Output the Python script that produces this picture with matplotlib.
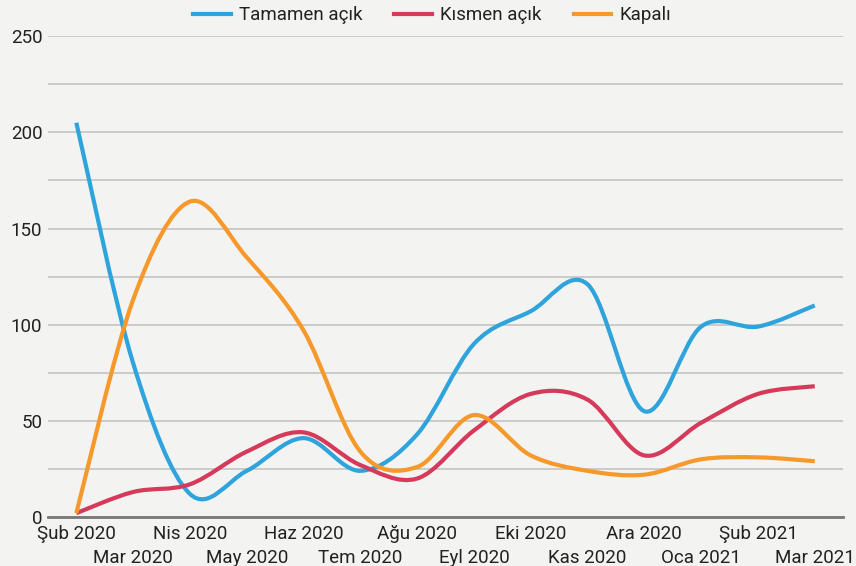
import matplotlib.pyplot as plt
from matplotlib.path import Path
from matplotlib.patches import PathPatch
from matplotlib.lines import Line2D

# data
months = ["Şub 2020", "Mar 2020", "Nis 2020", "May 2020", "Haz 2020", "Tem 2020", "Ağu 2020",
          "Eyl 2020", "Eki 2020", "Kas 2020", "Ara 2020", "Oca 2021", "Şub 2021", "Mar 2021"]
tamamen = [205, 80, 12, 24, 41, 24, 43, 90, 107, 121, 55, 99, 99, 110]
kismen = [2, 13, 17, 34, 44, 27, 20, 45, 64, 61, 32, 49, 64, 68]
kapali = [2, 113, 164, 135, 97, 34, 26, 53, 32, 24, 22, 30, 31, 29]

series = [("Tamamen açık", tamamen, "#2ea3dc"),
          ("Kısmen açık", kismen, "#d63a5a"),
          ("Kapalı", kapali, "#f7982a")]

bg = "#f3f3f1"
plt.rcParams['font.family'] = ['Roboto', 'DejaVu Sans']


def smooth_path(xs, ys, t=1 / 6):
    # catmull-rom style bezier through the points
    n = len(xs)
    verts = [(xs[0], ys[0])]
    codes = [Path.MOVETO]
    for i in range(n - 1):
        p0 = max(i - 1, 0)
        p3 = min(i + 2, n - 1)
        c1 = (xs[i] + (xs[i + 1] - xs[p0]) * t, ys[i] + (ys[i + 1] - ys[p0]) * t)
        c2 = (xs[i + 1] - (xs[p3] - xs[i]) * t, ys[i + 1] - (ys[p3] - ys[i]) * t)
        verts += [c1, c2, (xs[i + 1], ys[i + 1])]
        codes += [Path.CURVE4] * 3
    return Path(verts, codes)


fig = plt.figure(figsize=(8.56, 5.66), dpi=100, facecolor=bg)
ax = fig.add_axes([0.056, 0.0866, 0.929, 0.8494], facecolor=bg)

x = list(range(len(months)))
for name, vals, col in series:
    p = PathPatch(smooth_path(x, vals), facecolor='none', edgecolor=col, lw=3.0,
                  capstyle='butt', joinstyle='round', zorder=3)
    ax.add_patch(p)

ax.set_xlim(-0.5, 13.5)
ax.set_ylim(0, 250)

fs = 13.5
ax.set_yticks([0, 50, 100, 150, 200, 250])
ax.set_yticks([25, 75, 125, 175, 225], minor=True)
ax.grid(axis='y', which='both', color='#c4c4c4', lw=1.2, zorder=1)
ax.tick_params(axis='y', which='both', length=0, pad=4, labelsize=fs, labelcolor='#222222')

ax.set_xticks(x[0::2])
ax.set_xticklabels(months[0::2])
ax.set_xticks(x[1::2], minor=True)
ax.set_xticklabels(months[1::2], minor=True)
ax.tick_params(axis='x', which='major', length=0, pad=5.5, labelsize=fs, labelcolor='#222222')
ax.tick_params(axis='x', which='minor', length=0, pad=23, labelsize=fs, labelcolor='#222222')

for s in ['top', 'right', 'left']:
    ax.spines[s].set_visible(False)
ax.spines['bottom'].set_color('#777777')
ax.spines['bottom'].set_linewidth(2)
ax.spines['bottom'].set_zorder(4)

handles = [Line2D([], [], color=c, lw=3.0) for _, _, c in series]
fig.legend(handles, [n for n, _, _ in series], loc='center', bbox_to_anchor=(0.505, 0.973),
           ncol=3, frameon=False, fontsize=fs, handlelength=2.0, handletextpad=0.45,
           columnspacing=1.7, labelcolor='#222222')

fig.savefig("out.png", dpi=100, facecolor=bg)
